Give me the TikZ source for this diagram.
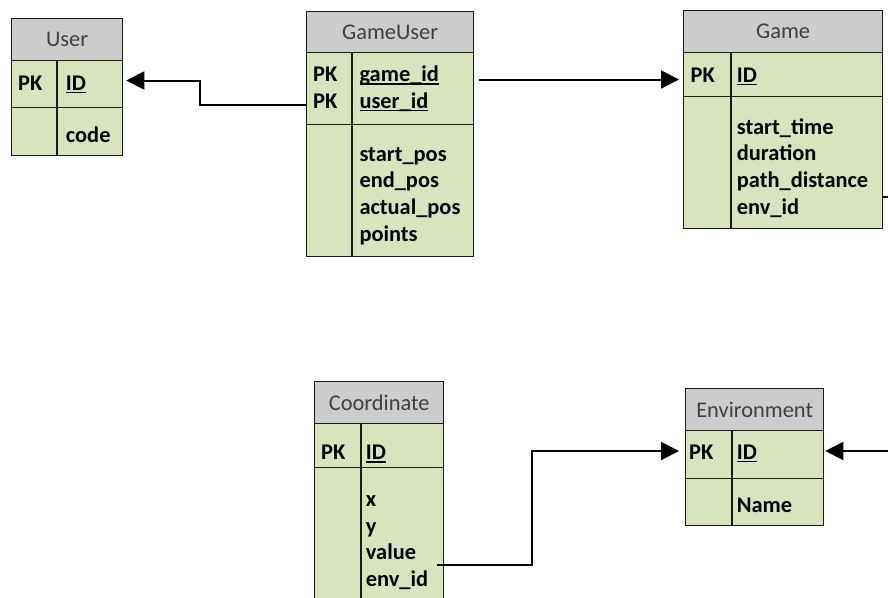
\documentclass[tikz,border=0pt]{standalone}
\usepackage{fontspec}
\setmainfont{Carlito}
\usetikzlibrary{arrows.meta}
\definecolor{hdrgray}{HTML}{CCCCCC}
\definecolor{rowgreen}{HTML}{D7E4BD}
\definecolor{hdrtext}{HTML}{404040}
\definecolor{edgeline}{HTML}{1A1A1A}
% underline drawn just below the baseline, as a word processor does
\newcommand\keyul[1]{\setbox0\hbox{#1}\rlap{\rule[-3.2pt]{\wd0}{1.3pt}}\box0}
\begin{document}
\begin{tikzpicture}[x=1pt,y=-1pt,
  hdrbox/.style={draw=edgeline, fill=hdrgray, line width=1.3pt, anchor=north west,
    inner sep=0pt, text=hdrtext, font=\fontsize{22.4}{26.8}\selectfont},
  rowbox/.style={draw=edgeline, fill=rowgreen, line width=1.3pt, anchor=north west, inner sep=0pt},
  divider/.style={draw=edgeline, line width=1.3pt},
  fld/.style={anchor=base west, inner sep=0pt, text=black,
    font=\bfseries\fontsize{22.4}{26.8}\selectfont},
  link/.style={draw=black, line width=2pt},
  fk/.style={link, -{Triangle[length=18pt,width=18pt]}}]
\useasboundingbox (0,0) rectangle (888,597);

% ---- User
\node[hdrbox, minimum width=111pt, minimum height=42pt] (u-h) at (11,18) {User};
\node[rowbox, minimum width=111pt, minimum height=47pt] (u-pk) at (11,60) {};
\node[rowbox, minimum width=111pt, minimum height=48pt] (u-at) at (11,107) {};
\draw[divider] (57,60) -- (57,155);
\node[fld] (u-pklbl) at (18,90) {PK};
\node[fld] (u-id) at (65.7,90) {\keyul{ID}};
\node[fld] (u-code) at (65.7,142.5) {code};

% ---- GameUser
\node[hdrbox, minimum width=167pt, minimum height=41pt] (gu-h) at (306,11) {GameUser};
\node[rowbox, minimum width=167pt, minimum height=72pt] (gu-pk) at (306,52) {};
\node[rowbox, minimum width=167pt, minimum height=132pt] (gu-at) at (306,124) {};
\draw[divider] (352,52) -- (352,256);
\node[fld] (gu-pk1) at (313,81.5) {PK};
\node[fld] (gu-pk2) at (313,108) {PK};
\node[fld] (gu-gid) at (359.3,81.5) {\keyul{game\_id}};
\node[fld] (gu-uid) at (359.3,108) {\keyul{user\_id}};
\node[fld] (gu-a1) at (359.3,161) {start\_pos};
\node[fld] (gu-a2) at (359.3,187.7) {end\_pos};
\node[fld] (gu-a3) at (359.3,214.4) {actual\_pos};
\node[fld] (gu-a4) at (359.3,241) {points};

% ---- Game
\node[hdrbox, minimum width=199pt, minimum height=42pt] (g-h) at (683,10) {Game};
\node[rowbox, minimum width=199pt, minimum height=44pt] (g-pk) at (683,52) {};
\node[rowbox, minimum width=199pt, minimum height=132pt] (g-at) at (683,96) {};
\draw[divider] (731,52) -- (731,228);
\node[fld] (g-pklbl) at (690.5,82) {PK};
\node[fld] (g-id) at (736.7,82) {\keyul{ID}};
\node[fld] (g-a1) at (736.7,134) {start\_time};
\node[fld] (g-a2) at (736.7,160.7) {duration};
\node[fld] (g-a3) at (736.7,187.4) {path\_distance};
\node[fld] (g-a4) at (736.7,214) {env\_id};

% ---- Coordinate (runs past the lower edge)
\node[hdrbox, minimum width=129pt, minimum height=42pt] (c-h) at (314,381) {Coordinate};
\node[rowbox, minimum width=129pt, minimum height=44pt] (c-pk) at (314,423) {};
\node[rowbox, minimum width=129pt, minimum height=140pt] (c-at) at (314,467) {};
\draw[divider] (361,423) -- (361,607);
\node[fld] (c-pklbl) at (321,459.5) {PK};
\node[fld] (c-id) at (365.7,459.5) {\keyul{ID}};
\node[fld] (c-a1) at (365.7,506.5) {x};
\node[fld] (c-a2) at (365.7,533) {y};
\node[fld] (c-a3) at (365.7,559.7) {value};
\node[fld] (c-a4) at (365.7,586.4) {env\_id};

% ---- Environment
\node[hdrbox, minimum width=138pt, minimum height=42pt] (e-h) at (685,388) {Environment};
\node[rowbox, minimum width=138pt, minimum height=48pt] (e-pk) at (685,430) {};
\node[rowbox, minimum width=138pt, minimum height=47pt] (e-at) at (685,478) {};
\draw[divider] (732,430) -- (732,525);
\node[fld] (e-pklbl) at (689,459) {PK};
\node[fld] (e-id) at (736.7,459) {\keyul{ID}};
\node[fld] (e-name) at (736.7,512.5) {Name};

% ---- relationships
\coordinate (c-out) at (437,565);
\coordinate (g-off) at (888,197);
\coordinate (e-in) at (888,451);
\draw[fk, shorten >=3pt] (gu-pk.west |- 0,105) -| (200,93) |- (u-pk.east |- 0,80.5);
\draw[fk, shorten <=5pt, shorten >=4pt] (gu-pk.east |- 0,79.5) -- (g-pk.west |- 0,79.5);
\draw[fk, shorten >=6pt] (c-out) -| (532,508) |- (e-pk.west |- 0,451);
\draw[link] (g-at.east |- g-off) -- (g-off);
\draw[fk, shorten >=1pt] (e-in) -- (e-pk.east |- e-in);
\end{tikzpicture}
\end{document}
